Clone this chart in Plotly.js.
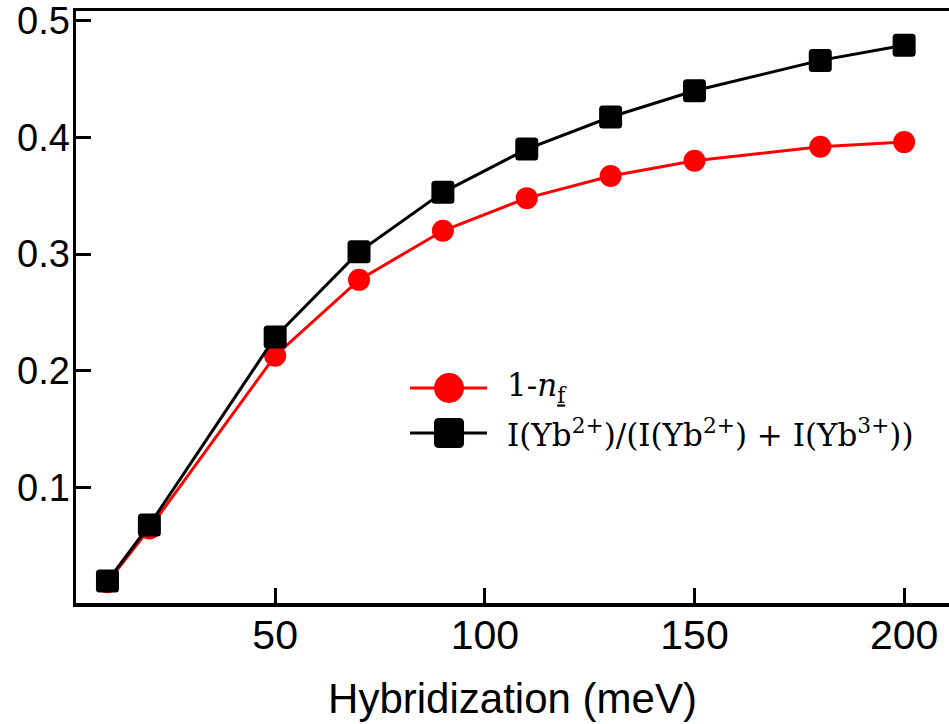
<!DOCTYPE html>
<html>
<head>
<meta charset="utf-8">
<script src="https://cdn.plot.ly/plotly-3.0.1.min.js"></script>
<style>
html,body{margin:0;padding:0;background:#fff;}
#chart{width:949px;height:724px;}
#chart .scatterlayer path.point{stroke-linejoin:round;}
</style>
</head>
<body>
<div id="chart"></div>
<script>
const hybridization = [10, 20, 50, 70, 90, 110, 130, 150, 180, 200];
const oneMinusNf = [0.019, 0.065, 0.213, 0.278, 0.320, 0.348, 0.367, 0.380, 0.392, 0.396];
const ybRatio = [0.020, 0.068, 0.229, 0.302, 0.353, 0.390, 0.4175, 0.440, 0.466, 0.479];
const xTicks = [50, 100, 150, 200];
const yTicks = [0.1, 0.2, 0.3, 0.4, 0.5];
const yTickLabels = ['0.1', '0.2', '0.3', '0.4', '0.5'];
const seriesNames = [
  '1-<i>n</i><sub><span style="text-decoration:underline">f</span></sub>',
  'I(Yb<sup>2+</sup>)/(I(Yb<sup>2+</sup>) + I(Yb<sup>3+</sup>))'
];
const xTitle = 'Hybridization (meV)';

const RED = '#ff0000', BLACK = '#000000';
// legend layout (fractions of the plot area)
const legendRowY = [0.3632, 0.2872];
const legendLineX = [0.3826, 0.4708];
const legendMarkX = [0.4273];
const legendTextX = 0.4914;

const traces = [
  {x: hybridization, y: oneMinusNf, type: 'scatter', mode: 'lines+markers', name: seriesNames[0],
   line: {color: RED, width: 3}, marker: {symbol: 'circle', size: 22, color: RED, opacity: 1}, cliponaxis: false},
  {x: hybridization, y: ybRatio, type: 'scatter', mode: 'lines+markers', name: seriesNames[1],
   line: {color: BLACK, width: 3}, marker: {symbol: 'square', size: 16, color: BLACK, opacity: 1, line: {color: BLACK, width: 7}}, cliponaxis: false}
];
// legend samples drawn on hidden overlay axes
const legendStyles = [
  {line: {color: RED, width: 3}, marker: {symbol: 'circle', size: 30, color: RED, opacity: 1}},
  {line: {color: BLACK, width: 3}, marker: {symbol: 'square', size: 21, color: BLACK, opacity: 1, line: {color: BLACK, width: 9}}}
];
legendStyles.forEach((s, i) => {
  traces.push({x: legendLineX, y: [legendRowY[i], legendRowY[i]], xaxis: 'x2', yaxis: 'y2', type: 'scatter', mode: 'lines',
    line: s.line, showlegend: false, hoverinfo: 'skip', cliponaxis: false});
  traces.push({x: legendMarkX, y: [legendRowY[i]], xaxis: 'x2', yaxis: 'y2', type: 'scatter', mode: 'markers',
    marker: s.marker, showlegend: false, hoverinfo: 'skip', cliponaxis: false});
});

const layout = {
  width: 949, height: 724,
  margin: {l: 76, r: 0, t: 11, b: 121, pad: 0},
  paper_bgcolor: '#ffffff', plot_bgcolor: '#ffffff',
  showlegend: false,
  font: {family: 'Liberation Sans, Arial, sans-serif', color: '#000'},
  xaxis: {
    range: [2.5, 210.7], tickvals: xTicks, ticktext: xTicks.map(String),
    ticks: 'inside', ticklen: 15, tickwidth: 3, tickcolor: '#000',
    showline: true, linecolor: '#000', linewidth: 3.5, mirror: true,
    showgrid: false, zeroline: false, ticklabeloverflow: 'allow', ticklabelstandoff: -7,
    tickfont: {size: 41, family: 'Liberation Sans, Arial, sans-serif'},
    title: {text: xTitle, font: {size: 42, family: 'Liberation Sans, Arial, sans-serif'}, standoff: 28}
  },
  yaxis: {
    range: [0.0012, 0.5083], tickvals: yTicks, ticktext: yTickLabels,
    ticks: 'inside', ticklen: 15, tickwidth: 3, tickcolor: '#000',
    showline: true, linecolor: '#000', linewidth: 3.5, mirror: false,
    showgrid: false, zeroline: false, ticklabeloverflow: 'allow', ticklabelstandoff: -5,
    tickfont: {size: 38, family: 'Liberation Sans, Arial, sans-serif'}
  },
  xaxis2: {overlaying: 'x', range: [0, 1], visible: false, fixedrange: true},
  yaxis2: {overlaying: 'y', range: [0, 1], visible: false, fixedrange: true},
  annotations: seriesNames.map((t, i) => ({
    text: t, xref: 'paper', yref: 'paper', x: legendTextX, y: legendRowY[i],
    xanchor: 'left', yanchor: 'middle', showarrow: false,
    font: {family: 'DejaVu Serif, Liberation Serif, serif', size: 31, color: '#000'}
  }))
};

Plotly.newPlot('chart', traces, layout, {displayModeBar: false, staticPlot: true});
</script>
</body>
</html>
